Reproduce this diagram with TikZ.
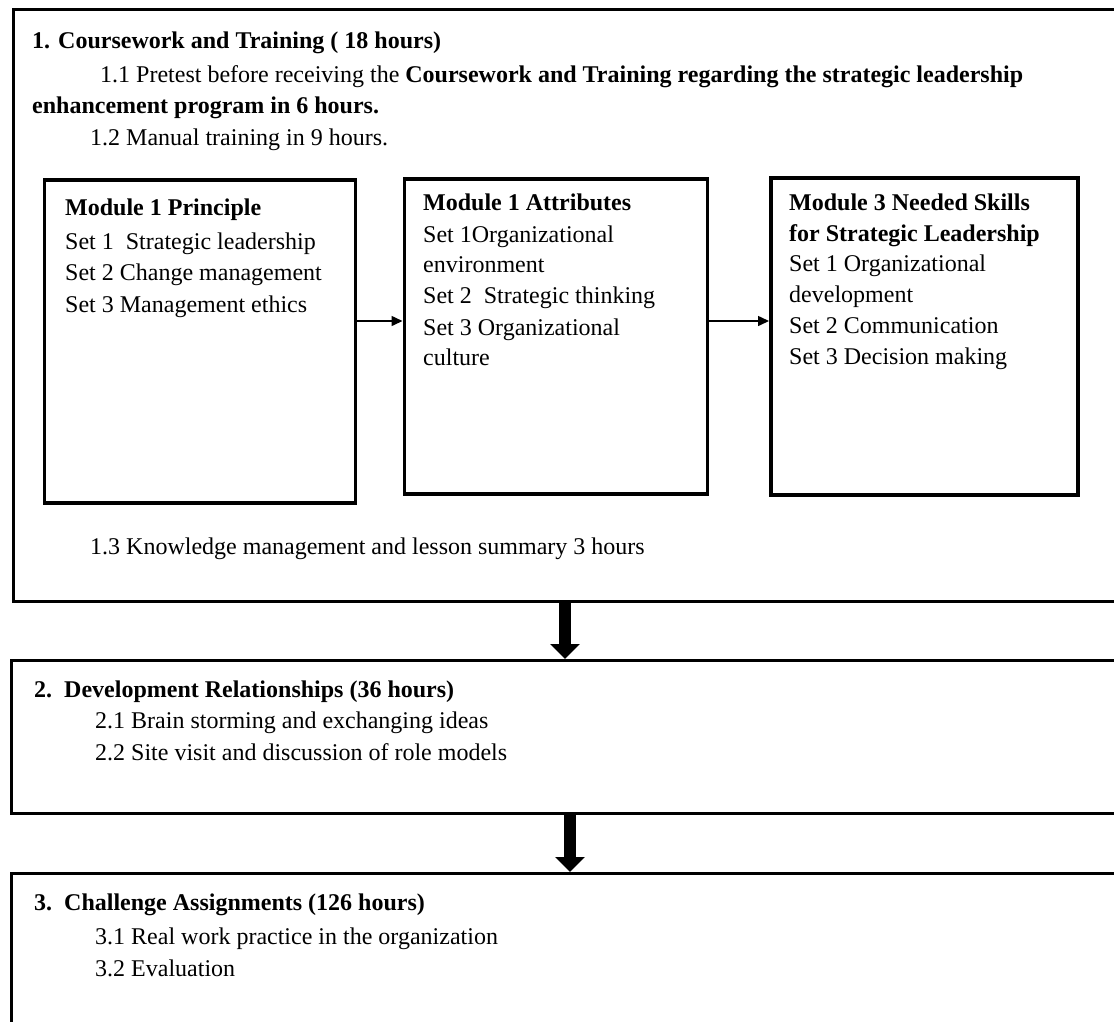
\documentclass[tikz,border=0pt]{standalone}
\usepackage{fontspec}
\setmainfont{Liberation Serif}
\usetikzlibrary{arrows.meta}
\begin{document}
\begin{tikzpicture}[x=1pt,y=-1pt,
  txt/.style={anchor=base west, inner sep=0pt, font=\fontsize{24}{31}\selectfont},
  btxt/.style={txt, font=\fontsize{24}{31}\selectfont\bfseries},
  outerbox/.style={draw, line width=3pt, rectangle, anchor=north west, inner sep=0pt},
  modbox/.style={draw, line width=3.5pt, rectangle, anchor=north west, inner sep=0pt},
  smallarrow/.style={line width=1.5pt, -{Triangle[width=10pt,length=11pt]}},
  bigarrow/.style={line width=12pt, -{Triangle[width=29pt,length=15pt]}}]
\useasboundingbox (0,0) rectangle (1114,1021);
\clip (0,0) rectangle (1114,1021);
\fill[white] (0,0) rectangle (1114,1021);

% outer boxes
\node[outerbox, minimum width=1140pt, minimum height=592pt] (b1) at (12,8) {};
\node[outerbox, minimum width=1140pt, minimum height=153pt] (b2) at (10,659) {};
\node[outerbox, minimum width=1140pt, minimum height=200pt] (b3) at (10,872) {};

% module boxes
\node[modbox, minimum width=311pt, minimum height=323pt] (m1) at (42.5,178) {};
\node[modbox, minimum width=303pt, minimum height=315pt] (m2) at (402.5,177) {};
\node[modbox, minimum width=307pt, minimum height=317pt] (m3) at (769,176) {};

% box 1 text
\node[btxt] (h1) at (32,48) {1. Coursework and Training ( 18 hours)};
\node[txt] (l11) at (100,82) {1.1 Pretest before receiving the \textbf{Coursework and Training regarding the strategic leadership}};
\node[btxt] (l11b) at (32,113) {enhancement program in 6 hours.};
\node[txt] (l12) at (90,145) {1.2 Manual training in 9 hours.};
\node[txt] (l13) at (90,554) {1.3 Knowledge management and lesson summary 3 hours};

% module 1
\node[btxt] (m1h) at (65,215) {Module 1 Principle};
\node[txt] (m1a) at (65,249) {Set 1 \ Strategic leadership};
\node[txt] (m1b) at (65,280) {Set 2 Change management};
\node[txt] (m1c) at (65,312) {Set 3 Management ethics};

% module 2
\node[btxt] (m2h) at (423,210) {Module 1 Attributes};
\node[txt] (m2a) at (423,242) {Set 1Organizational};
\node[txt] (m2b) at (423,272) {environment};
\node[txt] (m2c) at (423,303) {Set 2 \ Strategic thinking};
\node[txt] (m2d) at (423,335) {Set 3 Organizational};
\node[txt] (m2e) at (423,365) {culture};

% module 3
\node[btxt] (m3h) at (789,210) {Module 3 Needed Skills};
\node[btxt] (m3h2) at (789,241) {for Strategic Leadership};
\node[txt] (m3a) at (789,271) {Set 1 Organizational};
\node[txt] (m3b) at (789,302) {development};
\node[txt] (m3c) at (789,333) {Set 2 Communication};
\node[txt] (m3d) at (789,364) {Set 3 Decision making};

% box 2 text
\node[btxt] (h2n) at (34,697) {2.};
\node[btxt] (h2) at (64,697) {Development Relationships (36 hours)};
\node[txt] (l21) at (95,728) {2.1 Brain storming and exchanging ideas};
\node[txt] (l22) at (95,760) {2.2 Site visit and discussion of role models};

% box 3 text
\node[btxt] (h3n) at (34,910) {3.};
\node[btxt] (h3) at (64,910) {Challenge Assignments (126 hours)};
\node[txt] (l31) at (95,944) {3.1 Real work practice in the organization};
\node[txt] (l32) at (95,976) {3.2 Evaluation};

% connectors
\coordinate (r1) at (0,321);
\draw[smallarrow] (m1.east |- r1) -- (m2.west |- r1);
\draw[smallarrow] (m2.east |- r1) -- (m3.west |- r1);
\coordinate (ax1) at (565,0);
\coordinate (ax2) at (570,0);
\draw[bigarrow] (b1.south -| ax1) -- (b2.north -| ax1);
\draw[bigarrow] (b2.south -| ax2) -- (b3.north -| ax2);
\end{tikzpicture}
\end{document}
